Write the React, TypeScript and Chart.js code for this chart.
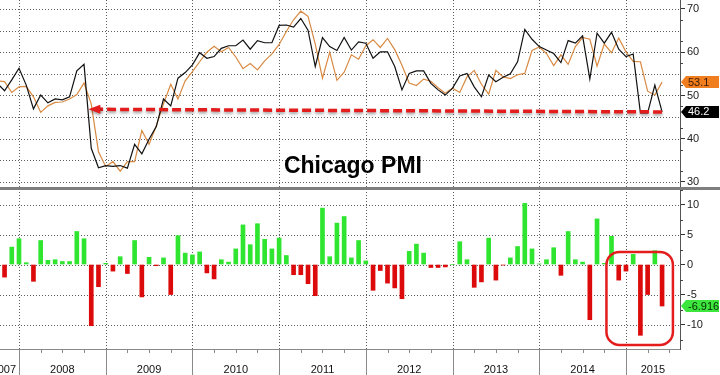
import React, { useEffect, useRef } from "react";
import { Chart, registerables } from "chart.js";

Chart.register(...registerables);

// ---------------- DATA (monthly, Sep 2007 – May 2015) ----------------
const firstYear = 2007;
const firstMonth = 9;

// Chicago PMI actual (black line)
const actual: number[] = [
  52.8, 51.1, 53.6, 56.3, // 2007 Sep–Dec
  52.4, 46.9, 50.1, 48.3, 49.2, 49.0, 49.7, 55.7, 57.2, 37.8, 33.3, 33.8, // 2008
  33.6, 33.8, 33.2, 38.7, 36.5, 39.9, 42.8, 49.2, 47.6, 54.0, 55.3, 57.1, // 2009
  59.9, 58.6, 59.0, 60.9, 61.5, 61.5, 62.8, 60.7, 62.7, 62.2, 62.2, 66.2, // 2010
  66.3, 65.8, 67.8, 65.1, 56.7, 63.4, 61.3, 60.4, 63.4, 60.5, 62.4, 62.1, // 2011
  58.6, 60.1, 60.1, 56.7, 51.3, 55.1, 55.7, 55.7, 52.8, 51.3, 50.1, 51.7, // 2012
  54.5, 55.1, 52.0, 49.7, 54.7, 53.2, 54.2, 55.0, 57.8, 65.3, 63.0, 61.3, // 2013
  60.5, 59.7, 57.6, 62.7, 62.1, 63.8, 53.8, 64.4, 62.1, 64.6, 60.7, 59.0, // 2014
  59.6, 46.0, 46.0, 52.4, 46.2, // 2015 Jan–May
];

// Survey expectation (orange line)
const expected: number[] = [
  53.4, 53.2, 50.7, 52.0, // 2007
  52.1, 49.7, 46.1, 47.6, 48.4, 48.5, 49.2, 50.2, 52.9, 48.0, 37.0, 33.6, // 2008
  34.7, 32.5, 34.7, 34.7, 41.9, 38.7, 43.0, 48.1, 52.6, 49.2, 53.4, 55.5, // 2009
  57.8, 60.0, 61.4, 60.1, 61.1, 58.9, 56.2, 57.4, 55.9, 58.0, 59.6, 61.8, // 2010
  64.8, 67.5, 69.5, 68.3, 61.9, 54.0, 60.0, 53.5, 55.4, 59.4, 58.4, 61.5, // 2011
  62.9, 61.1, 63.2, 60.6, 57.0, 52.9, 52.3, 53.8, 53.3, 51.8, 50.5, 51.7, // 2012
  50.7, 54.3, 55.8, 52.6, 50.3, 55.8, 54.3, 53.9, 54.8, 55.1, 60.4, 61.2, // 2013
  59.7, 56.9, 59.4, 57.2, 61.3, 63.4, 63.0, 56.8, 61.9, 59.9, 63.3, 60.1, // 2014
  57.9, 57.8, 51.0, 50.1, 53.1, // 2015
];

// Surprise (actual - expected), bars
const surprise: number[] = [
  -0.6, -2.1, 2.9, 4.3, // 2007
  0.3, -2.8, 4.0, 0.7, 0.8, 0.5, 0.5, 5.5, 4.3, -10.2, -3.7, 0.2, // 2008
  -1.1, 1.3, -1.5, 4.0, -5.4, 1.2, -0.2, 1.1, -5.0, 4.8, 1.9, 1.6, // 2009
  2.1, -1.4, -2.4, 0.8, 0.4, 2.6, 6.6, 3.3, 6.8, 4.2, 2.6, 4.4, // 2010
  1.5, -1.7, -1.7, -3.2, -5.2, 9.4, 1.3, 6.9, 8.0, 1.1, 4.0, 0.6, // 2011
  -4.3, -1.0, -3.1, -3.9, -5.7, 2.2, 3.4, 1.9, -0.5, -0.5, -0.4, 0.0, // 2012
  3.8, 0.8, -3.8, -2.9, 4.4, -2.6, -0.1, 1.1, 3.0, 10.2, 2.6, 0.1, // 2013
  0.8, 2.8, -1.8, 5.5, 0.8, 0.4, -9.2, 7.6, 0.2, 4.7, -2.6, -1.1, // 2014
  1.7, -11.8, -5.0, 2.3, -6.916, // 2015
];

const years: string[] = ["2007", "2008", "2009", "2010", "2011", "2012", "2013", "2014", "2015"];
const topTicks: number[] = [30, 35, 40, 45, 50, 55, 60, 65, 70];
const bottomTicks: number[] = [-10, -5, 0, 5, 10];
const titleText = "Chicago PMI";

// x value = months after end of Dec 2007
const monthX: number[] = actual.map((_, i) => {
  const m0 = firstMonth - 1 + i;
  const y = firstYear + Math.floor(m0 / 12);
  const m = (m0 % 12) + 1;
  return (y - 2008) * 12 + m;
});
const yearStartX: number[] = years.map((y) => (Number(y) - 2008) * 12);

const X_MIN = -2.63;
const X_MAX = 91.48;

const GREEN = "#2fe52f";
const RED = "#dc0a0a";
const ORANGE = "#d98a42";
const DOT = "#5e5e5e";
const FONT = "'Liberation Sans', Arial, sans-serif";

function drawTag(ctx: CanvasRenderingContext2D, xLeft: number, yc: number, text: string, bg: string, fg: string) {
  const h = 12;
  const tip = 5;
  const right = 719;
  ctx.beginPath();
  ctx.moveTo(xLeft, yc);
  ctx.lineTo(xLeft + tip, yc - h / 2);
  ctx.lineTo(right, yc - h / 2);
  ctx.lineTo(right, yc + h / 2);
  ctx.lineTo(xLeft + tip, yc + h / 2);
  ctx.closePath();
  ctx.fillStyle = bg;
  ctx.fill();
  ctx.fillStyle = fg;
  ctx.font = `11px ${FONT}`;
  ctx.textAlign = "left";
  ctx.textBaseline = "middle";
  ctx.fillText(text, xLeft + tip + 2, yc + 0.5);
}

function roundRectPath(ctx: CanvasRenderingContext2D, x: number, y: number, w: number, h: number, r: number) {
  ctx.beginPath();
  ctx.moveTo(x + r, y);
  ctx.arcTo(x + w, y, x + w, y + h, r);
  ctx.arcTo(x + w, y + h, x, y + h, r);
  ctx.arcTo(x, y + h, x, y, r);
  ctx.arcTo(x, y, x + w, y, r);
  ctx.closePath();
}

function drawDottedGrid(chart: any) {
  const { ctx, chartArea: area, scales } = chart;
  const xs = scales.x;
  ctx.save();
  ctx.strokeStyle = DOT;
  ctx.lineWidth = 1;
  ctx.setLineDash([1, 2]);
  const hLines = (sc: any, vals: number[]) => {
    for (const v of vals) {
      const py = Math.round(sc.getPixelForValue(v)) + 0.5;
      if (py < sc.top || py > sc.bottom) continue;
      ctx.beginPath();
      ctx.moveTo(area.left, py);
      ctx.lineTo(area.right, py);
      ctx.stroke();
    }
  };
  hLines(scales.yTop, topTicks);
  hLines(scales.yBot, bottomTicks);
  for (const s of yearStartX) {
    const px = Math.round(xs.getPixelForValue(s)) + 0.5;
    if (px <= area.left || px >= area.right) continue;
    ctx.beginPath();
    ctx.moveTo(px, area.top);
    ctx.lineTo(px, area.bottom);
    ctx.stroke();
  }
  ctx.restore();
}

const decorPlugin = {
  id: "pmiDecor",
  beforeDatasetsDraw(chart: any) {
    drawDottedGrid(chart);
  },
  afterDraw(chart: any) {
    const { ctx, chartArea: area, scales } = chart;
    const xs = scales.x;
    const yt = scales.yTop;
    const yb = scales.yBot;
    ctx.save();

    // minor ticks on right axis
    ctx.strokeStyle = "#444";
    ctx.lineWidth = 1;
    const minor = (sc: any, vals: number[]) => {
      for (const v of vals) {
        const py = Math.round(sc.getPixelForValue(v)) + 0.5;
        if (py < sc.top || py > sc.bottom) continue;
        ctx.beginPath();
        ctx.moveTo(area.right, py);
        ctx.lineTo(area.right + 3, py);
        ctx.stroke();
      }
    };
    minor(yt, topTicks.map((t) => t + 2.5));
    minor(yb, bottomTicks.map((t) => t + 2.5).concat([bottomTicks[0] - 2.5]));

    // panel separator
    ctx.fillStyle = "#7e7e7e";
    ctx.fillRect(0, Math.round(yt.bottom) - 1, chart.width, 3);

    // bottom axis line, year separators, quarter ticks
    ctx.fillStyle = "#8a8a8a";
    ctx.fillRect(area.left, Math.round(area.bottom), area.right - area.left, 1);
    for (const s of yearStartX) {
      const px = Math.round(xs.getPixelForValue(s));
      if (px < area.left || px > area.right) continue;
      ctx.fillRect(px, area.bottom, 1, chart.height - area.bottom);
      for (const q of [3, 6, 9]) {
        const qx = Math.round(xs.getPixelForValue(s + q));
        if (qx < area.right) ctx.fillRect(qx, area.bottom, 1, 4);
      }
    }
    {
      const qx = Math.round(xs.getPixelForValue(yearStartX[0] + 9));
      ctx.fillRect(qx, area.bottom, 1, 4);
    }

    // year labels
    ctx.fillStyle = "#111";
    ctx.font = `11px ${FONT}`;
    ctx.textBaseline = "alphabetic";
    years.forEach((label, i) => {
      const s = yearStartX[i];
      const a = Math.max(area.left, xs.getPixelForValue(s));
      const b = Math.min(area.right, xs.getPixelForValue(s + 12));
      if (b <= a) return;
      const tw = ctx.measureText(label).width;
      if (b - a < tw + 6) {
        ctx.textAlign = "right";
        ctx.fillText(label, b - 3, 373);
      } else {
        ctx.textAlign = "center";
        ctx.fillText(label, (a + b) / 2, 373);
      }
    });

    // title
    ctx.fillStyle = "#000";
    ctx.font = `bold 23px ${FONT}`;
    ctx.textAlign = "center";
    ctx.textBaseline = "alphabetic";
    ctx.fillText(titleText, area.left + (area.right - area.left) * 0.519, yt.bottom - 15);

    // red dashed arrow (from latest reading back to the last time at that level)
    const last = actual.length - 1;
    const ax1 = xs.getPixelForValue(monthX[last]);
    const ay1 = yt.getPixelForValue(actual[last]);
    const ax2 = xs.getPixelForValue(9.6);
    const ay2 = yt.getPixelForValue(46.8);
    ctx.save();
    ctx.shadowColor = "rgba(0,0,0,0.35)";
    ctx.shadowBlur = 3;
    ctx.shadowOffsetY = 2;
    ctx.strokeStyle = "#e31c1c";
    ctx.fillStyle = "#e31c1c";
    ctx.lineWidth = 3.5;
    ctx.setLineDash([9, 4]);
    ctx.beginPath();
    ctx.moveTo(ax1, ay1);
    ctx.lineTo(ax2 + 11, ay2);
    ctx.stroke();
    ctx.setLineDash([]);
    ctx.beginPath();
    ctx.moveTo(ax2, ay2);
    ctx.lineTo(ax2 + 12, ay2 - 4.5);
    ctx.lineTo(ax2 + 12, ay2 + 4.5);
    ctx.closePath();
    ctx.fill();
    ctx.restore();

    // red rounded rectangle highlight
    const rx1 = xs.getPixelForValue(81.3);
    const rx2 = xs.getPixelForValue(90.5);
    const ry1 = yb.getPixelForValue(2.1);
    const ry2 = yb.getPixelForValue(-13.4);
    ctx.strokeStyle = "#e31c1c";
    ctx.lineWidth = 2.5;
    roundRectPath(ctx, rx1, ry1, rx2 - rx1, ry2 - ry1, 13);
    ctx.stroke();

    // value tags
    drawTag(ctx, area.right + 1, yt.getPixelForValue(expected[last]), String(expected[last]), "#f07d1e", "#3a1a00");
    drawTag(ctx, area.right + 1, yt.getPixelForValue(actual[last]), String(actual[last]), "#000", "#fff");
    drawTag(ctx, area.right + 1, yb.getPixelForValue(surprise[last]), String(surprise[last]), "#3de63d", "#062a06");

    ctx.restore();
  },
};

export default function App() {
  const ref = useRef<HTMLCanvasElement>(null);

  useEffect(() => {
    document.body.style.margin = "0";
    const canvas = ref.current;
    if (!canvas) return;

    const yAxisCommon = (ticks: number[], weight: number) => ({
      type: "linear" as const,
      position: "right" as const,
      stack: "panels",
      stackWeight: weight,
      afterBuildTicks: (s: any) => {
        s.ticks = ticks.map((v) => ({ value: v }));
      },
      afterFit: (s: any) => {
        s.width = 40;
        s.paddingTop = 0;
        s.paddingBottom = 0;
      },
      grid: {
        drawOnChartArea: false,
        drawTicks: true,
        tickLength: 5,
        tickColor: "#333",
        tickWidth: 1,
      },
      border: { display: true, color: "#555", width: 1 },
      ticks: {
        color: "#222",
        padding: 2,
        font: { family: FONT, size: 11 },
      },
    });

    const chart = new Chart(canvas, {
      type: "line",
      data: {
        datasets: [
          {
            type: "line",
            label: "Expected",
            data: expected.map((v, i) => ({ x: monthX[i], y: v })),
            borderColor: ORANGE,
            borderWidth: 1.2,
            pointRadius: 0,
            tension: 0,
            yAxisID: "yTop",
            xAxisID: "x",
            order: 2,
          },
          {
            type: "line",
            label: "Actual",
            data: actual.map((v, i) => ({ x: monthX[i], y: v })),
            borderColor: "#111",
            borderWidth: 1.2,
            pointRadius: 0,
            tension: 0,
            yAxisID: "yTop",
            xAxisID: "x",
            order: 1,
          },
          {
            type: "bar",
            label: "Surprise",
            data: surprise.map((v, i) => ({ x: monthX[i], y: v })),
            backgroundColor: surprise.map((v) => (v >= 0 ? GREEN : RED)),
            borderWidth: 0,
            barThickness: 4,
            yAxisID: "yBot",
            xAxisID: "x",
            order: 3,
          } as any,
        ],
      },
      options: {
        animation: false,
        responsive: false,
        maintainAspectRatio: false,
        devicePixelRatio: 1,
        events: [],
        layout: { padding: 0 },
        plugins: {
          legend: { display: false },
          title: { display: false },
          tooltip: { enabled: false },
        },
        scales: {
          x: {
            type: "linear",
            position: "bottom",
            min: X_MIN,
            max: X_MAX,
            offset: false,
            afterBuildTicks: (s: any) => {
              s.ticks = yearStartX.map((v) => ({ value: v }));
            },
            afterFit: (s: any) => {
              s.height = 26;
              s.paddingLeft = 0;
              s.paddingRight = 0;
            },
            grid: { drawOnChartArea: false, drawTicks: false, offset: false },
            border: { display: false },
            ticks: { display: false },
          },
          yTop: { ...yAxisCommon(topTicks, 188), min: 28.61, max: 72.08 },
          yBot: { ...yAxisCommon(bottomTicks, 161), min: -14.08, max: 12.75 },
        } as any,
      },
      plugins: [decorPlugin],
    });

    return () => chart.destroy();
  }, []);

  return (
    <div style={{ position: "absolute", left: 0, top: 0, width: 720, height: 375, background: "#fff" }}>
      <canvas ref={ref} width={720} height={375} style={{ display: "block", width: 720, height: 375 }} />
    </div>
  );
}
